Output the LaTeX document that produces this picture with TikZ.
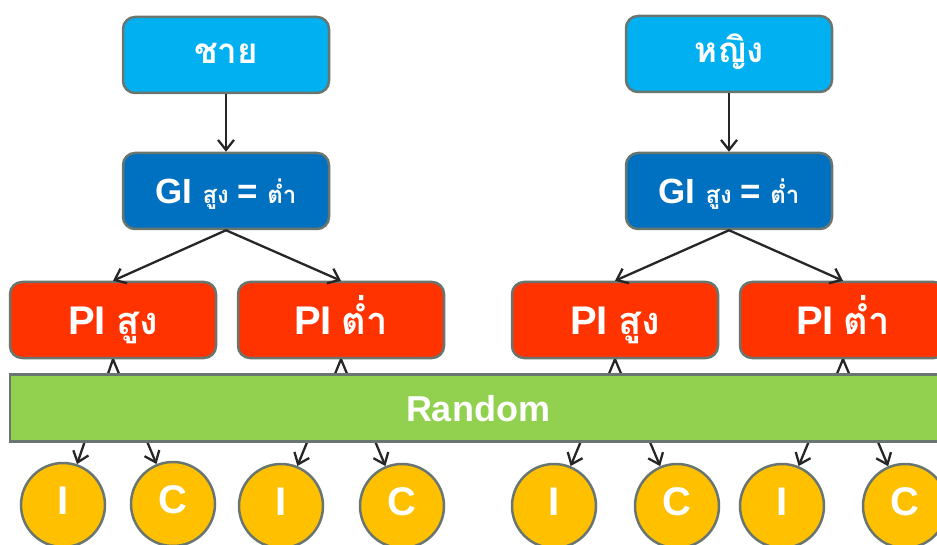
\documentclass[tikz,border=0pt]{standalone}
\usepackage{fontspec}
\setmainfont{Liberation Sans}
\newfontfamily\thaifont[Script=Thai]{Loma}
\usetikzlibrary{arrows.meta}
\definecolor{sexblue}{RGB}{0,176,240}
\definecolor{giblue}{RGB}{0,112,192}
\definecolor{pired}{RGB}{255,51,0}
\definecolor{randgreen}{RGB}{146,208,80}
\definecolor{circgold}{RGB}{255,192,0}
\definecolor{edgegray}{RGB}{105,118,112}
\definecolor{arrowdark}{RGB}{38,38,38}
\tikzset{
  box/.style={draw=edgegray, line width=2.5pt, rounded corners=12pt,
    minimum width=206pt, minimum height=76pt, inner sep=0pt, text=white},
  sexbox/.style={box, fill=sexblue, text height=18pt, text depth=0pt},
  gibox/.style={box, fill=giblue, text height=25pt, text depth=0pt},
  pibox/.style={box, fill=pired, text height=29pt, text depth=0pt},
  randbar/.style={draw=edgegray, line width=2.5pt, fill=randgreen,
    minimum width=936pt, minimum height=67pt, inner sep=0pt, text=white,
    text height=26pt, text depth=0pt},
  grp/.style={circle, draw=edgegray, line width=2.5pt, fill=circgold,
    minimum size=84pt, inner sep=0pt, text=white, text height=27pt, text depth=8pt},
  conn/.style={draw=arrowdark, line width=2.3pt,
    -{Straight Barb[length=10pt,width=16pt,line width=2.3pt]}},
}
\newcommand{\latx}[1]{{\fontsize{40}{40}\selectfont\bfseries #1}}
\newcommand{\gix}[1]{{\fontsize{35}{35}\selectfont\bfseries #1}}
\newcommand{\thx}[2]{{\thaifont\fontsize{#1}{#1}\selectfont\bfseries #2}}
\begin{document}
\begin{tikzpicture}[x=1pt,y=-1pt]
\clip (0,0) rectangle (937,545);
\useasboundingbox (0,0) rectangle (937,545);
% top boxes
\node[sexbox] (male) at (226,55) {\thx{35}{ชาย}};
\node[sexbox] (female) at (729,54) {\thx{35}{หญิง}};
% GI boxes
\node[gibox] (gil) at (226,191) {\gix{GI}\hspace{10pt}\thx{24}{สูง}\hspace{9pt}\gix{=}\hspace{9pt}\thx{24}{ต่ำ}};
\node[gibox] (gir) at (729,191) {\gix{GI}\hspace{10pt}\thx{24}{สูง}\hspace{9pt}\gix{=}\hspace{9pt}\thx{24}{ต่ำ}};
% PI boxes
\node[pibox] (pilh) at (113,320) {\latx{PI}\hspace{10pt}\thx{38}{สูง}};
\node[pibox] (pill) at (341,320) {\latx{PI}\hspace{10pt}\thx{38}{ต่ำ}};
\node[pibox] (pirh) at (615,320) {\latx{PI}\hspace{10pt}\thx{38}{สูง}};
\node[pibox] (pirl) at (843,320) {\latx{PI}\hspace{10pt}\thx{38}{ต่ำ}};
% circles
\node[grp] (i1) at (63,505) {\latx{I}};
\node[grp] (c1) at (173,504) {\latx{C}};
\node[grp] (i2) at (281,506) {\latx{I}};
\node[grp] (c2) at (402,506) {\latx{C}};
\node[grp] (i3) at (554,506) {\latx{I}};
\node[grp] (c3) at (677,506) {\latx{C}};
\node[grp] (i4) at (782,506) {\latx{I}};
\node[grp] (c4) at (905,506) {\latx{C}};
% arrows
\draw[conn] (male) -- (gil);
\draw[conn] (female) -- (gir);
\draw[conn] (gil.south) -- (pilh.north);
\draw[conn] (gil.south) -- (pill.north);
\draw[conn] (gir.south) -- (pirh.north);
\draw[conn] (gir.south) -- (pirl.north);
\draw[conn] (pilh.south) -- (i1);
\draw[conn] (pilh.south) -- (c1);
\draw[conn] (pill.south) -- (i2);
\draw[conn] (pill.south) -- (c2);
\draw[conn] (pirh.south) -- (i3);
\draw[conn] (pirh.south) -- (c3);
\draw[conn] (pirl.south) -- (i4);
\draw[conn] (pirl.south) -- (c4);
% random bar on top
\node[randbar] (rand) at (478,408) {{\fontsize{36}{36}\selectfont\bfseries Random}};
\end{tikzpicture}
\end{document}
